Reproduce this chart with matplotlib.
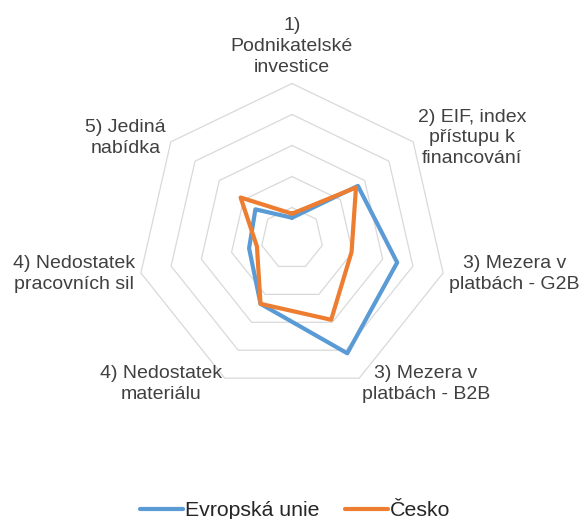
import numpy as np
import matplotlib
matplotlib.use('Agg')
import matplotlib.pyplot as plt

categories = [
    "1)\nPodnikatelské\ninvestice",
    "2) EIF, index\npřístupu k\nfinancování",
    "3) Mezera v\nplatbách - G2B",
    "3) Mezera v\nplatbách - B2B",
    "4) Nedostatek\nmateriálu",
    "4) Nedostatek\npracovních sil",
    "5) Jediná\nnabídka",
]
eu_values = [0.67, 2.72, 3.48, 4.11, 2.34, 1.42, 1.51]
cz_values = [0.80, 2.64, 1.97, 2.91, 2.34, 1.16, 2.12]
series_names = ["Evropská unie", "Česko"]
ring_levels = [1, 2, 3, 4, 5]

plt.rcParams['font.family'] = ['Liberation Sans', 'DejaVu Sans']

W, H = 581, 519
fig = plt.figure(figsize=(W / 100, H / 100), dpi=100)
cx, cy, R = 292.0, 238.5, 155.0
ax = fig.add_axes([(cx - R) / W, 1 - (cy + R) / H, 2 * R / W, 2 * R / H],
                  projection='polar')
ax.set_theta_zero_location('N')
ax.set_theta_direction(-1)
ax.set_ylim(0, 5)
ax.grid(False)
ax.set_xticks([])
ax.set_yticks([])
ax.spines['polar'].set_visible(False)
ax.patch.set_alpha(0)

n = len(categories)
theta = np.linspace(0, 2 * np.pi, n, endpoint=False)
theta_c = np.append(theta, theta[0])

for lvl in ring_levels:
    ax.plot(theta_c, [lvl] * (n + 1), color='#d9d9d9', lw=0.9, zorder=1,
            clip_on=False)

colors = ['#5B9BD5', '#ED7D31']
for vals, name, col in zip([eu_values, cz_values], series_names, colors):
    v = list(vals) + [vals[0]]
    ax.plot(theta_c, v, color=col, lw=3.0, label=name, zorder=3,
            solid_joinstyle='round', solid_capstyle='round', clip_on=False)

text_color = '#404040'
for i, (t, lab) in enumerate(zip(theta, categories)):
    if i == 0:
        ha, va, r = 'center', 'bottom', 5.24
    elif i <= 3:
        ha, va, r = 'left', 'center', 5.2
    else:
        ha, va, r = 'right', 'center', 5.2
    ax.text(t, r, lab, ha=ha, va=va, multialignment='center', fontsize=14,
            color=text_color, linespacing=1.3)

handles, labels = ax.get_legend_handles_labels()
leg = fig.legend(handles, labels, loc='center', bbox_to_anchor=(295.5 / W, 1 - 510.5 / H),
                 ncol=2, frameon=False, fontsize=15.3, handlelength=2.0,
                 handletextpad=0.12, columnspacing=1.2, borderpad=0.1)
for txt in leg.get_texts():
    txt.set_color('#262626')

fig.savefig('out.png', dpi=100)
